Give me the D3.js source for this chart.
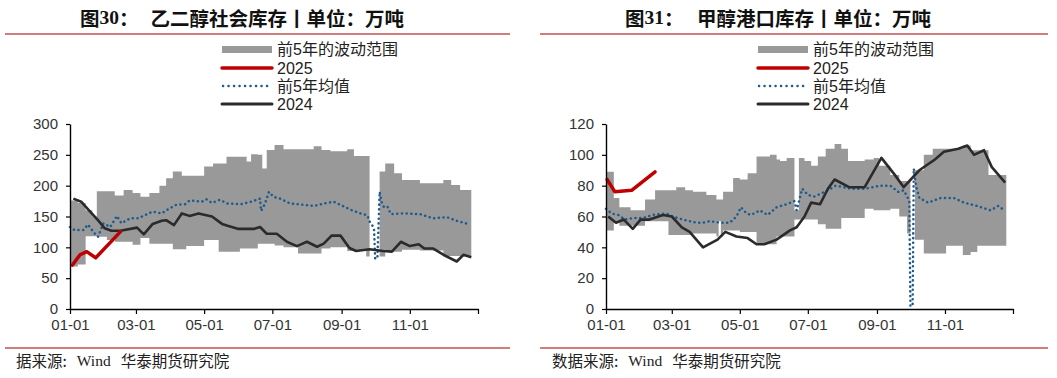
<!DOCTYPE html>
<html>
<head>
<meta charset="utf-8">
<script src="https://cdn.jsdelivr.net/npm/d3@7/dist/d3.min.js"></script>
<style>
body { margin: 0; background: #fff; }
text { font-family: "Liberation Sans", Arial, "Noto Sans CJK SC", sans-serif; }
</style>
</head>
<body>
<div id="chart"></div>
<script>
// ---- 图30 乙二醇社会库存 (days counted from 01-01) ----
var megBandDays = [0, 7, 14, 20, 24, 33, 40, 48, 56, 63, 71, 80, 86, 92, 100, 104, 120, 128, 133, 140, 152, 158, 162, 168, 172, 176, 183, 191, 204, 218, 225, 233, 248, 254, 265, 268, 277, 282, 290, 297, 313, 334, 341, 349, 359];
var megBandLow  = [69, 72, 118, 118, 117, 112, 109, 109, 104, 115, 106, 106, 106, 97, 97, 102, 112, 112, 93, 93, 98, 98, 98, 106, 106, 106, 103, 100, 90, 90, 98, 100, 94, 94, 85, null, 85, 93, 93, 96, 95, 86, 86, 85, 85];
var megBandHigh = [176, 172, 160, 150, 191, 191, 184, 193, 188, 182, 188, 200, 212, 223, 216, 216, 231, 236, 236, 247, 247, 239, 251, 250, 228, 258, 266, 259, 259, 264, 258, 256, 259, 248, 248, null, 223, 236, 220, 209, 204, 209, 201, 193, 193];

var megMeanDays = [0, 4, 12, 16, 21, 25, 30, 36, 42, 46, 54, 61, 67, 74, 82, 88, 95, 103, 107, 118, 122, 127, 134, 141, 153, 162, 170, 171, 174, 178, 182, 188, 197, 209, 218, 227, 236, 243, 251, 260, 266, 268, 270, 272, 273, 275, 277, 279, 281, 284, 287, 298, 313, 325, 337, 346, 358];
var megMean     = [133, 128, 128, 137, 125, 117, 139, 133, 151, 139, 147, 147, 152, 158, 155, 162, 169, 170, 176, 174, 178, 172, 177, 171, 170, 174, 179, 159, 169, 190, 182, 179, 171, 169, 167, 171, 174, 168, 161, 155, 152, 142, 137, 130, 82, 82, 190, 172, 165, 166, 154, 155, 154, 147, 149, 143, 137];

var meg2024Days = [3, 10, 17, 25, 31, 37, 45, 60, 66, 74, 82, 86, 93, 100, 107, 115, 127, 136, 141, 150, 165, 170, 176, 185, 194, 203, 212, 221, 227, 234, 242, 250, 256, 268, 280, 288, 296, 304, 312, 317, 325, 334, 346, 352, 359];
var meg2024     = [179, 174, 160, 144, 131, 127, 127, 132, 121, 138, 143, 144, 136, 155, 151, 155, 150, 138, 135, 130, 130, 133, 122, 122, 109, 102, 109, 101, 106, 119, 119, 99, 94, 97, 94, 93, 109, 102, 105, 98, 98, 88, 77, 88, 84];

var meg2025Days = [2, 9, 15, 23, 45];
var meg2025     = [71, 88, 93, 83, 125];

var megYTicks = [0, 50, 100, 150, 200, 250, 300];

// ---- 图31 甲醇港口库存 ----
var meoBandDays = [0, 7, 12, 22, 35, 44, 56, 63, 71, 78, 90, 99, 101, 103, 105, 114, 120, 127, 135, 147, 153, 156, 162, 169, 173, 178, 184, 190, 197, 205, 211, 217, 232, 240, 245, 255, 263, 270, 273, 277, 285, 293, 305, 320, 327, 333, 343, 359];
var meoBandLow  = [51, 56, 54, 54, 57, 57, 48, 48, 48, 49, 49, 47, 57, 47, 51, 51, 50, 50, 42, 42, 47, 47, 47, 58, 58, 58, 58, 55, 52, 52, 59, 59, 65, 64, 64, 65, 60, 49, null, 45, 36, 36, 41, 35, 37, 41, 41, 41];
var meoBandHigh = [89, 72, 66, 64, 71, 77, 77, 79, 77, 76, 74, 71, 71, 71, 76, 85, 84, 88, 99, 100, 97, 96, 98, 64, 98, 96, 93, 99, 104, 107, 104, 96, 97, 98, 93, 87, 83, 83, null, 90, 100, 104, 104, 106, 103, 103, 87, 87];

var meoMeanDays = [0, 5, 11, 17, 24, 33, 42, 54, 60, 69, 81, 87, 93, 102, 111, 117, 121, 126, 130, 138, 145, 153, 162, 169, 171, 176, 181, 187, 199, 206, 220, 232, 246, 255, 262, 267, 270, 272, 273, 275, 276, 278, 281, 289, 300, 312, 321, 332, 345, 352, 357];
var meoMean     = [65, 62, 61, 58, 59, 59, 61, 62, 60, 58, 56, 56, 57, 56, 56, 60, 66, 62, 61, 64, 61, 66, 68, 70, 64, 78, 74, 73, 77, 80, 78, 78, 80, 80, 76, 77, 73, 70, 2, 2, 91, 80, 72, 69, 72, 72, 69, 67, 64, 67, 64];

var meo2024Days = [2, 9, 16, 24, 31, 39, 51, 59, 68, 75, 87, 100, 107, 117, 127, 135, 142, 153, 165, 171, 178, 184, 192, 199, 205, 218, 232, 247, 259, 267, 281, 295, 303, 316, 324, 330, 339, 346, 358];
var meo2024     = [60, 56, 58, 52, 58, 58, 61, 60, 53, 50, 40, 45, 50, 47, 46, 42, 42, 45, 51, 53, 60, 69, 68, 78, 84, 79, 79, 98, 87, 79, 90, 97, 102, 104, 106, 100, 103, 92, 82];

var meo2025Days = [1, 8, 23, 44];
var meo2025     = [84, 76, 77, 89];

var meoYTicks = [0, 20, 40, 60, 80, 100, 120];

var monthTicks = ["01-01", "03-01", "05-01", "07-01", "09-01", "11-01"];
var legendNames = ["前5年的波动范围", "2025", "前5年均值", "2024"];

// colours
var bandColor = "#999999", redColor = "#c00000", blueColor = "#1f5a8c", blackColor = "#2b2b2b", ruleColor = "#d27d7d";

var svg = d3.select("#chart")
  .append("svg")
    .attr("width", 1057)
    .attr("height", 378);

var yearStart = new Date(2025, 0, 1),
    yearEnd = new Date(2026, 0, 1);

function toDate(day) { return d3.timeDay.offset(yearStart, day); }

// turn step starts into explicit corner points so gaps stay clean
function stepPoints(days, lo, hi) {
  var pts = [];
  for (var i = 0; i < days.length - 1; i++) {
    pts.push({day: days[i], lo: lo[i], hi: hi[i]});
    pts.push({day: days[i + 1], lo: lo[i], hi: hi[i]});
  }
  return pts;
}

function pairs(days, vals) {
  return days.map(function(d, i) { return {day: d, v: vals[i]}; });
}

function drawPanel(p) {
  var g = svg.append("g");

  // title + rules
  var t = g.append("text")
    .attr("x", p.titleX).attr("y", 17)
    .attr("dominant-baseline", "central")
    .style("font-size", "19.5px").style("font-weight", "bold").style("fill", "#111");
  t.append("tspan").style("font-family", "Noto Sans CJK SC").text("图");
  t.append("tspan").style("font-family", "Liberation Serif").text(p.num);
  t.append("tspan").style("font-family", "Noto Sans CJK SC").text("：");
  g.append("text")
    .attr("x", p.titleX2).attr("y", 17)
    .attr("dominant-baseline", "central")
    .style("font-family", "Noto Sans CJK SC")
    .style("font-size", "19.5px").style("font-weight", "bold").style("fill", "#111")
    .text(p.title);

  [34, 348].forEach(function(yy) {
    g.append("line")
      .attr("x1", p.ruleX1).attr("x2", p.ruleX2).attr("y1", yy).attr("y2", yy)
      .style("stroke", ruleColor).style("stroke-width", 2);
  });

  var src = g.append("text")
    .attr("x", p.srcX).attr("y", 360)
    .attr("dominant-baseline", "central")
    .style("font-size", "15.5px").style("fill", "#222");
  src.append("tspan").style("font-family", "Noto Sans CJK SC").text(p.srcLabel);
  src.append("tspan").style("font-family", "Liberation Serif").attr("dx", 10).text("Wind");
  src.append("tspan").style("font-family", "Noto Sans CJK SC").attr("dx", 10).text("华泰期货研究院");

  // scales
  var x = d3.scaleTime().domain([yearStart, yearEnd]).range([p.x0, p.x1]);
  var y = d3.scaleLinear().domain([0, d3.max(p.yTicks)]).range([309, 124]);

  // band
  var area = d3.area()
    .defined(function(d) { return d.lo != null; })
    .x(function(d) { return x(toDate(d.day)); })
    .y0(function(d) { return y(d.lo); })
    .y1(function(d) { return y(d.hi); });
  g.append("path")
    .datum(stepPoints(p.bandDays, p.bandLow, p.bandHigh))
    .attr("d", area)
    .style("fill", bandColor);

  var line = d3.line()
    .x(function(d) { return x(toDate(d.day)); })
    .y(function(d) { return y(d.v); });

  g.append("path")
    .datum(pairs(p.meanDays, p.mean))
    .attr("d", line)
    .style("fill", "none").style("stroke", blueColor)
    .style("stroke-width", 2.5).style("stroke-linecap", "round")
    .style("stroke-dasharray", "0.1,4.6");

  g.append("path")
    .datum(pairs(p.lastDays, p.last))
    .attr("d", line)
    .style("fill", "none").style("stroke", blackColor).style("stroke-width", 2.6)
    .style("stroke-linejoin", "round");

  g.append("path")
    .datum(pairs(p.curDays, p.cur))
    .attr("d", line)
    .style("fill", "none").style("stroke", redColor).style("stroke-width", 3.5)
    .style("stroke-linejoin", "round").style("stroke-linecap", "round");

  // axes
  var tickDates = monthTicks.map(function(s) { return d3.timeParse("%Y-%m-%d")("2025-" + s); }).concat([yearEnd]);
  var xAxis = g.append("g")
    .attr("transform", "translate(0,309)")
    .call(d3.axisBottom(x).tickValues(tickDates).tickSize(5).tickPadding(5).tickSizeOuter(0)
      .tickFormat(function(d) { return +d === +yearEnd ? "" : d3.timeFormat("%m-%d")(d); }));
  var yAxis = g.append("g")
    .attr("transform", "translate(" + p.x0 + ",0)")
    .call(d3.axisLeft(y).tickValues(p.yTicks).tickSize(4).tickPadding(8).tickSizeOuter(0));
  [xAxis, yAxis].forEach(function(a) {
    a.select(".domain").style("stroke", "#000").style("stroke-width", 1.4);
    a.selectAll(".tick line").style("stroke", "#000").style("stroke-width", 1.2);
    a.selectAll("text").style("font-size", "15px").style("fill", "#333")
      .style("font-family", "'Liberation Sans', Arial, sans-serif");
  });

  // legend
  var ly = [49.5, 68, 86, 104];
  var lg = g.append("g");
  lg.append("rect").attr("x", p.legX).attr("y", ly[0] - 3.5).attr("width", 50).attr("height", 7).style("fill", bandColor);
  lg.append("line").attr("x1", p.legX).attr("x2", p.legX + 50).attr("y1", ly[1]).attr("y2", ly[1])
    .style("stroke", redColor).style("stroke-width", 3.5).style("stroke-linecap", "round");
  lg.append("line").attr("x1", p.legX + 1).attr("x2", p.legX + 50).attr("y1", ly[2]).attr("y2", ly[2])
    .style("stroke", blueColor).style("stroke-width", 2.5).style("stroke-linecap", "round").style("stroke-dasharray", "0.1,5.4");
  lg.append("line").attr("x1", p.legX).attr("x2", p.legX + 50).attr("y1", ly[3]).attr("y2", ly[3])
    .style("stroke", blackColor).style("stroke-width", 3).style("stroke-linecap", "round");
  lg.selectAll("text.leg")
    .data(legendNames)
    .join("text")
      .attr("class", "leg")
      .attr("x", p.legX + 55)
      .attr("y", function(d, i) { return ly[i]; })
      .attr("dominant-baseline", "central")
      .style("font-size", "16px").style("fill", "#222")
      .text(function(d) { return d; });
}

drawPanel({
  num: "30", title: "乙二醇社会库存丨单位：万吨", titleX: 80, titleX2: 150.5,
  ruleX1: 5, ruleX2: 510, srcX: 16, srcLabel: "据来源:",
  x0: 70, x1: 478, yTicks: megYTicks, legX: 222,
  bandDays: megBandDays, bandLow: megBandLow, bandHigh: megBandHigh,
  meanDays: megMeanDays, mean: megMean,
  lastDays: meg2024Days, last: meg2024,
  curDays: meg2025Days, cur: meg2025
});

drawPanel({
  num: "31", title: "甲醇港口库存丨单位：万吨", titleX: 625, titleX2: 697,
  ruleX1: 540, ruleX2: 1048, srcX: 552, srcLabel: "数据来源:",
  x0: 606, x1: 1013, yTicks: meoYTicks, legX: 758,
  bandDays: meoBandDays, bandLow: meoBandLow, bandHigh: meoBandHigh,
  meanDays: meoMeanDays, mean: meoMean,
  lastDays: meo2024Days, last: meo2024,
  curDays: meo2025Days, cur: meo2025
});
</script>
</body>
</html>
